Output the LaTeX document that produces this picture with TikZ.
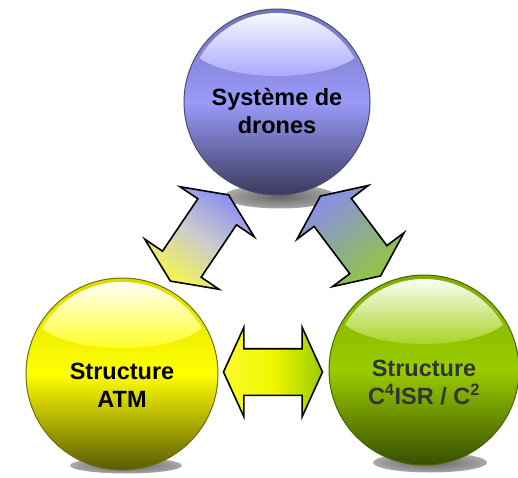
\documentclass[tikz,border=0pt]{standalone}
\usepackage{fontspec}
\setmainfont{Liberation Sans}
\usetikzlibrary{shapes.arrows,calc,backgrounds}

% sphere colours
\definecolor{dronetop}{HTML}{7272BC}
\definecolor{dronemid}{HTML}{9A9AFA}
\definecolor{dronebot}{HTML}{3A3A5C}
\definecolor{droneline}{HTML}{4C4C72}
\definecolor{atmtop}{HTML}{DADA00}
\definecolor{atmmid}{HTML}{FFFF00}
\definecolor{atmbot}{HTML}{5A5A06}
\definecolor{atmline}{HTML}{6E6E0A}
\definecolor{cfourtop}{HTML}{80AC00}
\definecolor{cfourmid}{HTML}{99CC00}
\definecolor{cfourbot}{HTML}{384E00}
\definecolor{cfourline}{HTML}{486400}
% arrow colours
\definecolor{arrpurple}{HTML}{888CF0}
\definecolor{arryellow}{HTML}{F6F64A}
\definecolor{arrgreen}{HTML}{92C83A}

\pgfdeclareradialshading{floorshadow}{\pgfpoint{0bp}{0bp}}{%
  color(0bp)=(black!60); color(20bp)=(black!40); color(50bp)=(white)}

\begin{document}
\begin{tikzpicture}[x=1pt, y=1pt,
  sphere/.style={circle, inner sep=0pt, minimum size=#1, line width=1pt},
  gloss/.style 2 args={path picture={
      \clip (path picture bounding box.center) circle (#1);
      \shade[top color=white, bottom color=#2]
        ([yshift=60]path picture bounding box.center) ellipse (88 and 34);}},
  lbl/.style={font=\bfseries\fontsize{23.5}{28}\selectfont, align=center},
  dblarrow/.style={double arrow, draw=black, line width=1.6pt,
    inner xsep=0pt, inner ysep=22.5pt,
    double arrow head extend=21.5pt, double arrow tip angle=131,
    minimum width=88pt}]
\useasboundingbox (0,0) rectangle (518,477);
% the three spheres
\node[sphere=186, draw=droneline, top color=dronetop, bottom color=dronebot,
  middle color=dronemid, gloss={89}{dronemid!85!white}] (drones) at (277,375) {};
\node[sphere=192, draw=atmline, top color=atmtop, bottom color=atmbot,
  middle color=atmmid, gloss={92}{atmmid!85!white}] (atm) at (122,103) {};
\node[sphere=190, draw=cfourline, top color=cfourtop, bottom color=cfourbot,
  middle color=cfourmid, gloss={91}{cfourmid!85!white}] (cfour) at (424,107) {};
% shadows under the spheres
\begin{scope}[on background layer]
\shade[shading=floorshadow] ([xshift=3,yshift=-1]drones.south) ellipse (56 and 12);
\shade[shading=floorshadow] ([xshift=4,yshift=5]atm.south) ellipse (56 and 8);
\shade[shading=floorshadow] ([xshift=6,yshift=3]cfour.south) ellipse (57 and 10);
\end{scope}
% labels
\node[lbl] (drones-txt) at ([yshift=-9]drones.center) {Système de\\drones};
\node[lbl] (atm-txt) at ([yshift=-11]atm.center) {Structure\\ATM};
\node[lbl, text=black!80] (cfour-txt) at ([yshift=-13]cfour.center)
  {Structure\\C\textsuperscript{4}ISR / C\textsuperscript{2}};
% double arrows
\node[dblarrow, minimum height=104pt, rotate=56, top color=arrpurple,
  bottom color=arryellow, middle color=black!20, shading angle=-34]
  (drones-atm) at ($(drones)!.5!(atm)$) {};
\node[dblarrow, minimum height=100pt, rotate=-53, top color=arrpurple,
  bottom color=arrgreen, shading angle=37]
  (drones-cfour) at ($(drones)!.5!(cfour)$) {};
\node[dblarrow, minimum height=99pt, left color=arryellow!60!yellow,
  right color=cfourmid, middle color=yellow!85!cfourmid]
  (atm-cfour) at ($(atm)!.5!(cfour)$) {};
\end{tikzpicture}
\end{document}
